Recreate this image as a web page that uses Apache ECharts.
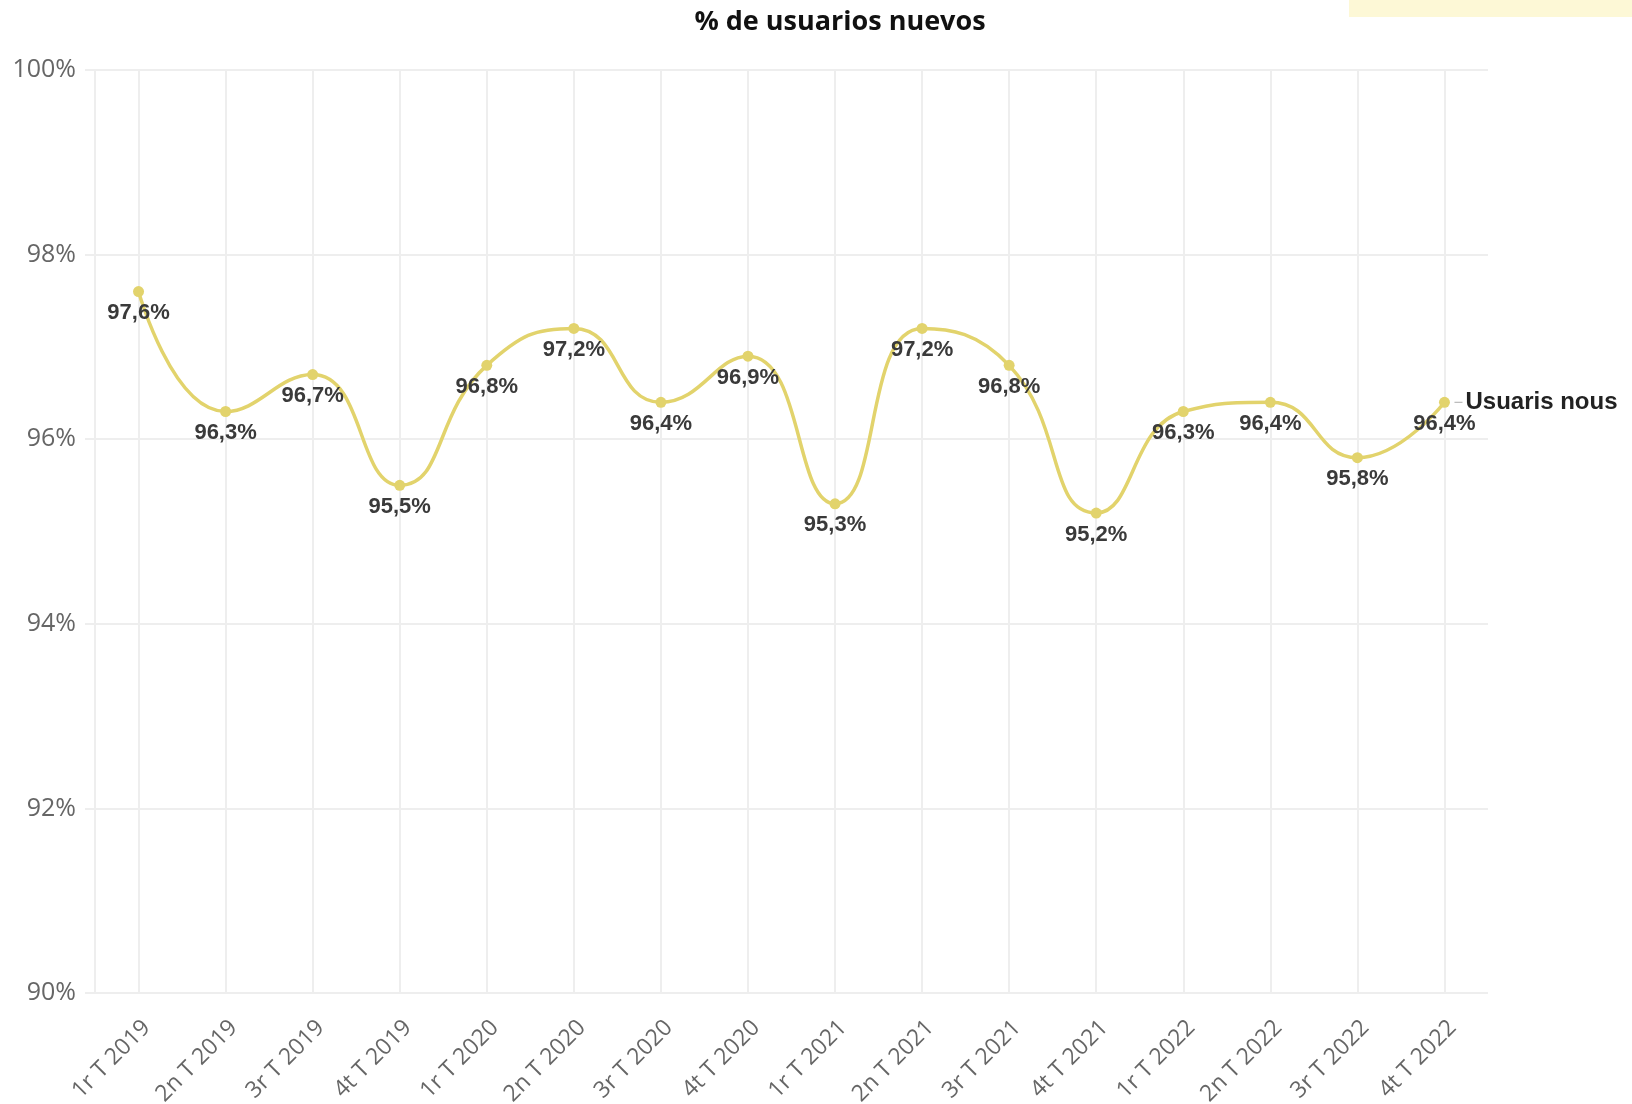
<!DOCTYPE html>
<html>
<head>
<meta charset="utf-8">
<title>% de usuarios nuevos</title>
<script src="https://cdn.jsdelivr.net/npm/echarts@6/dist/echarts.min.js"></script>
<style>
  html, body { margin: 0; padding: 0; background: #ffffff; }
  #chart { width: 1632px; height: 1104px; }
</style>
</head>
<body>
<div id="chart"></div>
<script>
// Quarterly share of new users
const quarters = [
  '1r T 2019', '2n T 2019', '3r T 2019', '4t T 2019',
  '1r T 2020', '2n T 2020', '3r T 2020', '4t T 2020',
  '1r T 2021', '2n T 2021', '3r T 2021', '4t T 2021',
  '1r T 2022', '2n T 2022', '3r T 2022', '4t T 2022'
];
const newUsersPct = [97.6, 96.3, 96.7, 95.5, 96.8, 97.2, 96.4, 96.9, 95.3, 97.2, 96.8, 95.2, 96.3, 96.4, 95.8, 96.4];
const seriesName = 'Usuaris nous';
const chartTitle = '% de usuarios nuevos';

const lineColor = '#e2d36c';
const gridColor = '#eeeeee';

const chart = echarts.init(document.getElementById('chart'));

chart.setOption({
  backgroundColor: '#ffffff',
  animation: false,
  title: {
    text: chartTitle,
    left: 835,
    top: 4,
    textAlign: 'center',
    textStyle: {
      fontFamily: 'Open Sans',
      fontWeight: 'bold',
      fontSize: 27,
      color: '#111111'
    }
  },
  graphic: [{
    type: 'rect',
    right: 0,
    top: 0,
    shape: { width: 283, height: 17 },
    style: { fill: '#fdf8d6' },
    silent: true
  }],
  grid: {
    left: 95,
    right: 144,
    top: 70,
    bottom: 111,
    containLabel: false,
    outerBoundsMode: 'none'
  },
  xAxis: {
    type: 'category',
    data: quarters,
    boundaryGap: true,
    axisLine: { show: false },
    axisTick: { show: false },
    splitLine: {
      show: true,
      alignWithLabel: true,
      lineStyle: { color: gridColor, width: 2 }
    },
    axisLabel: {
      rotate: 45,
      margin: 23,
      verticalAlign: 'top',
      fontFamily: 'Open Sans',
      fontSize: 23,
      color: '#666666',
      interval: 0
    }
  },
  yAxis: {
    type: 'value',
    min: 90,
    max: 100,
    interval: 2,
    axisLine: { show: true, lineStyle: { color: gridColor, width: 2 } },
    axisTick: { show: true, length: 10, lineStyle: { color: gridColor, width: 2 } },
    splitLine: { show: true, lineStyle: { color: gridColor, width: 2 } },
    axisLabel: {
      margin: 19,
      fontFamily: 'Open Sans',
      fontSize: 25,
      color: '#666666',
      formatter: v => v + '%'
    }
  },
  series: [{
    name: seriesName,
    type: 'line',
    data: newUsersPct,
    smooth: true,
    symbol: 'circle',
    symbolSize: 11,
    itemStyle: { color: lineColor },
    lineStyle: { color: lineColor, width: 3.5 },
    label: {
      show: true,
      position: 'bottom',
      distance: 5,
      fontFamily: 'Liberation Sans',
      fontWeight: 'bold',
      fontSize: 22,
      color: '#3a3a3a',
      formatter: p => p.value.toFixed(1).replace('.', ',') + '%'
    },
    endLabel: {
      show: true,
      distance: 10,
      formatter: '{dash|}{name|{a}}',
      rich: {
        dash: { width: 8, height: 1, backgroundColor: '#aaaaaa' },
        name: {
          fontFamily: 'Liberation Sans',
          fontWeight: 'bold',
          fontSize: 24,
          color: '#222222',
          padding: [0, 0, 0, 3]
        }
      }
    }
  }]
});
</script>
</body>
</html>
